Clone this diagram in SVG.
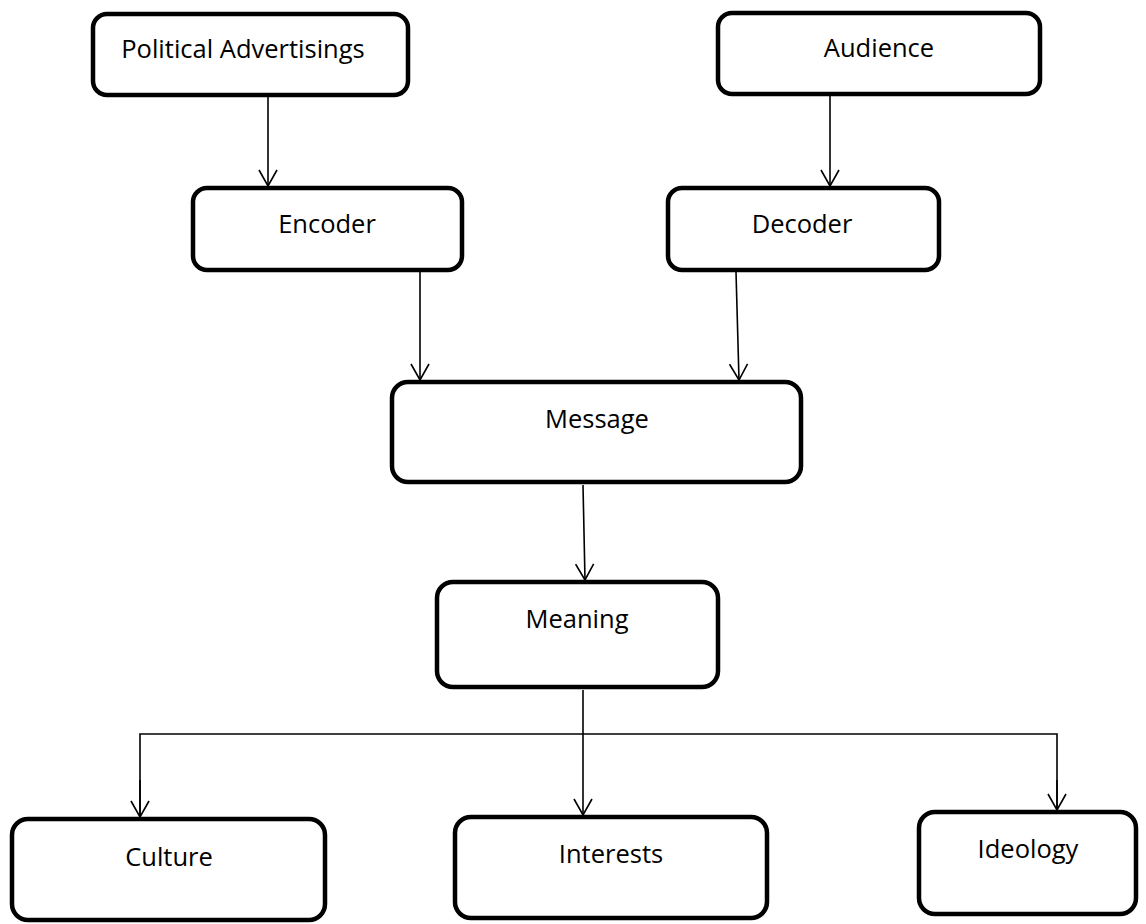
<svg xmlns="http://www.w3.org/2000/svg" width="1146" height="924" viewBox="0 0 1146 924">
<defs>
<style>
.box{fill:#fff;stroke:#000;stroke-width:4.5}
.t{font-family:"Open Sans",Lato,"Liberation Sans",sans-serif;font-size:25.5px;fill:#000;text-anchor:middle}
.c{fill:none;stroke:#000;stroke-width:1.6}
</style>
<marker id="ah" viewBox="0 0 20 20" refX="19" refY="10" markerWidth="20" markerHeight="20" markerUnits="userSpaceOnUse" orient="auto">
<path d="M3,1 L19,10 L3,19" fill="none" stroke="#000" stroke-width="1.6"/>
</marker>
</defs>
<rect width="1146" height="924" fill="#fff"/>
<g id="connectors">
<line class="c" x1="268" y1="97" x2="268" y2="186" marker-end="url(#ah)"/>
<line class="c" x1="830" y1="96" x2="830" y2="186" marker-end="url(#ah)"/>
<line class="c" x1="420" y1="272" x2="420" y2="380" marker-end="url(#ah)"/>
<line class="c" x1="736" y1="272" x2="739" y2="380" marker-end="url(#ah)"/>
<line class="c" x1="583" y1="485" x2="585" y2="580" marker-end="url(#ah)"/>
<line class="c" x1="583" y1="690" x2="583" y2="815" marker-end="url(#ah)"/>
<polyline class="c" points="140,817 140,734 1057,734 1057,810"/>
<line class="c" x1="140" y1="780" x2="140" y2="817" marker-end="url(#ah)"/>
<line class="c" x1="1057" y1="780" x2="1057" y2="810" marker-end="url(#ah)"/>
</g>
<g id="political"><rect class="box" x="93" y="14" width="315" height="81" rx="14"/><text class="t" x="243" y="58">Political Advertisings</text></g>
<g id="audience"><rect class="box" x="718" y="13" width="322" height="81" rx="14"/><text class="t" x="879" y="57">Audience</text></g>
<g id="encoder"><rect class="box" x="193" y="188" width="269" height="82" rx="14"/><text class="t" x="327" y="233">Encoder</text></g>
<g id="decoder"><rect class="box" x="668" y="188" width="271" height="82" rx="14"/><text class="t" x="802" y="233">Decoder</text></g>
<g id="message"><rect class="box" x="392" y="382" width="409" height="100" rx="16"/><text class="t" x="597" y="428">Message</text></g>
<g id="meaning"><rect class="box" x="437" y="582" width="281" height="105" rx="16"/><text class="t" x="577" y="628">Meaning</text></g>
<g id="culture"><rect class="box" x="12" y="819" width="313" height="101" rx="16"/><text class="t" x="169" y="866">Culture</text></g>
<g id="interests"><rect class="box" x="455" y="817" width="312" height="101" rx="16"/><text class="t" x="611" y="863">Interests</text></g>
<g id="ideology"><rect class="box" x="919" y="812" width="217" height="102" rx="16"/><text class="t" x="1028" y="858">Ideology</text></g>
</svg>
